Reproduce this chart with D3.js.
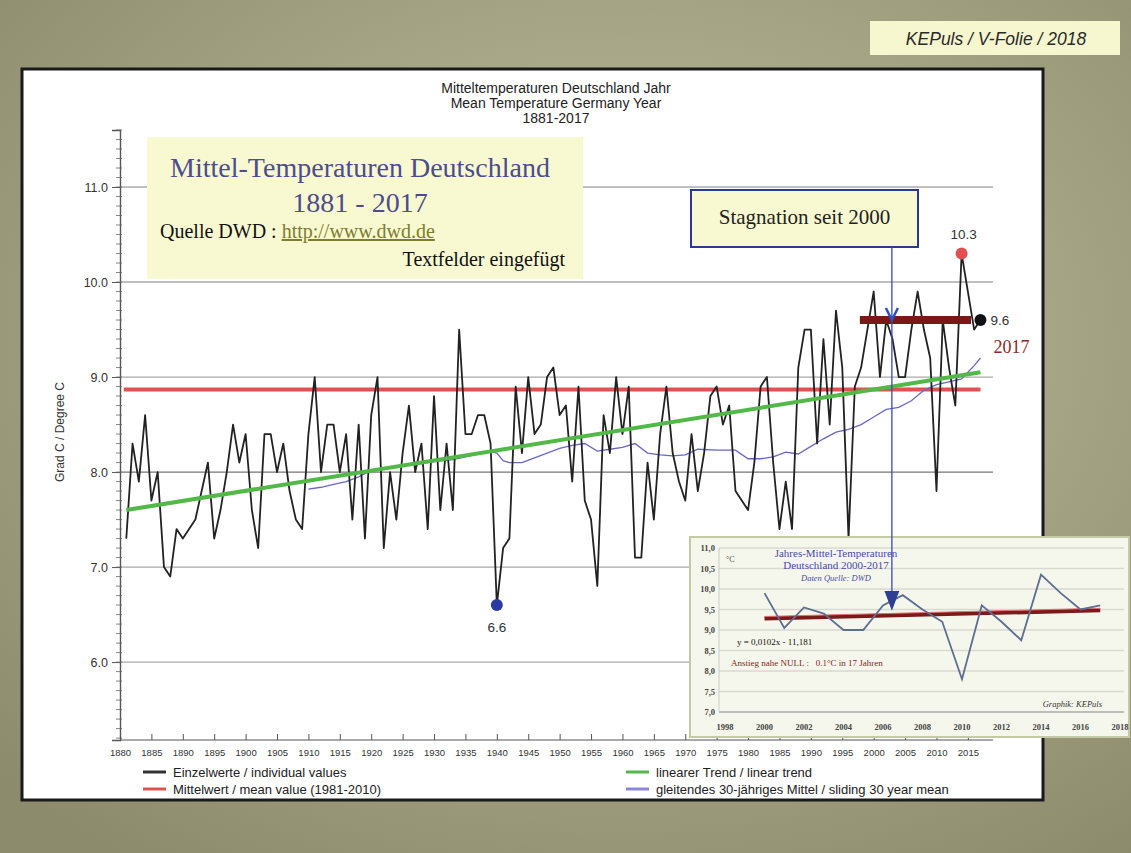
<!DOCTYPE html>
<html><head><meta charset="utf-8">
<script src="https://cdn.jsdelivr.net/npm/d3@7"></script>
<style>body{margin:0;background:#a0a084}svg{display:block}</style>
</head><body><svg id="c" width="1131" height="853"></svg>
<script>
// ---------- DATA ----------
const firstYear = 1881;
const temps = [
 7.3, 8.3, 7.9, 8.6, 7.7, 8.0, 7.0, 6.9, 7.4, 7.3,
 7.4, 7.5, 7.8, 8.1, 7.3, 7.6, 8.0, 8.5, 8.1, 8.4,
 7.6, 7.2, 8.4, 8.4, 8.0, 8.3, 7.8, 7.5, 7.4, 8.4,
 9.0, 8.0, 8.5, 8.5, 8.0, 8.4, 7.5, 8.5, 7.3, 8.6,
 9.0, 7.2, 8.0, 7.5, 8.2, 8.7, 8.0, 8.3, 7.4, 8.8,
 7.6, 8.3, 7.6, 9.5, 8.4, 8.4, 8.6, 8.6, 8.3, 6.6,
 7.2, 7.3, 8.9, 8.2, 9.0, 8.4, 8.5, 9.0, 9.1, 8.6,
 8.7, 7.9, 8.9, 7.7, 7.5, 6.8, 8.6, 8.2, 9.0, 8.4,
 8.9, 7.1, 7.1, 8.1, 7.5, 8.4, 8.9, 8.2, 7.9, 7.7,
 8.4, 7.8, 8.2, 8.8, 8.9, 8.5, 8.7, 7.8, 7.7, 7.6,
 8.1, 8.9, 9.0, 8.1, 7.4, 7.9, 7.4, 9.1, 9.5, 9.5,
 8.3, 9.4, 8.5, 9.7, 9.1, 7.3, 8.9, 9.1, 9.5, 9.9,
 9.0, 9.6, 9.4, 9.0, 9.0, 9.5, 9.9, 9.5, 9.2, 7.8,
 9.6, 9.1, 8.7, 10.3, 9.9, 9.5, 9.6
];
const trendYears = [1881, 2017];
const trendValues = [7.6, 9.05];
const meanYears = [1880.6, 2017];
const meanValue = 8.87;
const slideYears = [1910,1912,1914,1916,1918,1920,1922,1925,1928,1930,1933,1935,1937,1939,1940,1941,1942,1944,1946,1948,1950,1952,1954,1956,1958,1960,1962,1964,1966,1968,1970,1972,1975,1978,1980,1982,1984,1986,1988,1990,1992,1994,1996,1998,2000,2002,2004,2006,2008,2010,2012,2014,2015,2016,2017];
const slideValues = [7.82,7.84,7.87,7.9,7.95,8.02,8.04,8.07,8.09,8.11,8.13,8.16,8.19,8.22,8.2,8.12,8.1,8.1,8.15,8.2,8.25,8.28,8.3,8.22,8.24,8.26,8.3,8.2,8.18,8.17,8.18,8.24,8.23,8.23,8.14,8.14,8.16,8.21,8.19,8.27,8.35,8.42,8.45,8.5,8.58,8.66,8.68,8.75,8.86,8.92,8.95,8.98,9.05,9.12,9.2];
const stagYears = [1997.8, 2015.5];
const stagValue = 9.6;
const arrowYear = 2002.9;
const yTicks = [6, 7, 8, 9, 10, 11];
const xTicks = d3.range(1880, 2016, 5);
const titleLines = ["Mitteltemperaturen Deutschland Jahr", "Mean Temperature Germany Year", "1881-2017"];

const insetYears = d3.range(2000, 2018);
const insetValues = [9.9, 9.05, 9.55, 9.4, 9.0, 9.0, 9.6, 9.85, 9.5, 9.2, 7.8, 9.6, 9.2, 8.75, 10.35, 9.9, 9.5, 9.6];
const insetTrendYears = [2000, 2017];
const insetTrendValues = [9.28, 9.48];
const insetYTicks = [7, 7.5, 8, 8.5, 9, 9.5, 10, 10.5, 11];
const insetXTicks = d3.range(1998, 2019, 2);

// ---------- SETUP ----------
const svg = d3.select("#c");
const defs = svg.append("defs");
const rg = defs.append("radialGradient").attr("id","bg").attr("cx","55%").attr("cy","40%").attr("r","75%");
rg.append("stop").attr("offset","0%").attr("stop-color","#c0c0a0");
rg.append("stop").attr("offset","100%").attr("stop-color","#8c8c6c");
svg.append("rect").attr("width",1131).attr("height",853).attr("fill","url(#bg)");

// top-right label
svg.append("rect").attr("x",870).attr("y",21).attr("width",250).attr("height",34).attr("fill","#f6f6cf");
svg.append("text").attr("x",996).attr("y",45).attr("text-anchor","middle")
  .attr("font-family","Liberation Sans, Arial").attr("font-style","italic").attr("font-size",17.5).attr("fill","#2a2a2a")
  .text("KEPuls / V-Folie / 2018");

// white panel
svg.append("rect").attr("x",22).attr("y",69).attr("width",1021).attr("height",731)
  .attr("fill","#fff").attr("stroke","#1a1a1a").attr("stroke-width",3);

const x = d3.scaleLinear().domain([1880, 2019]).range([120, 993]);
const y = d3.scaleLinear().domain([5.18, 11.6]).range([740, 130]);
const sans = "Liberation Sans, Arial, sans-serif";
const serif = "Liberation Serif, Times New Roman, serif";

// title
svg.append("g").selectAll("text").data(titleLines).join("text")
  .attr("x",556).attr("y",(d,i)=>93+i*15).attr("text-anchor","middle")
  .attr("font-family",sans).attr("font-size",14).attr("fill","#222").text(d=>d);

// gridlines
svg.append("g").selectAll("line").data(yTicks).join("line")
  .attr("x1",x(1880)).attr("x2",x(2019)).attr("y1",d=>y(d)).attr("y2",d=>y(d))
  .attr("stroke",d=>d===8?"#777":"#aaa").attr("stroke-width",1.3);

// y axis
const yAxis = svg.append("g").attr("transform",`translate(${x(1880)},0)`)
  .call(d3.axisLeft(y).tickValues(yTicks).tickFormat(d3.format(".1f")).tickSize(8).tickPadding(4));
yAxis.select(".domain").attr("stroke","#555").attr("stroke-width",1.4);
yAxis.selectAll(".tick line").attr("stroke","#555");
yAxis.selectAll("text").attr("font-family",sans).attr("font-size",12.5).attr("fill","#333");
const minor = d3.range(52, 117).map(v=>v/10);
svg.append("g").selectAll("line").data(minor).join("line")
  .attr("x1",x(1880)-4).attr("x2",x(1880)+2).attr("y1",d=>y(d)).attr("y2",d=>y(d))
  .attr("stroke","#666").attr("stroke-width",0.8);
svg.append("text").attr("transform","translate(64,432) rotate(-90)").attr("text-anchor","middle")
  .attr("font-family",sans).attr("font-size",12).attr("fill","#333").text("Grad C / Degree C");

// x axis
const xAxis = svg.append("g").attr("transform",`translate(0,${y(5.18)})`)
  .call(d3.axisBottom(x).tickValues(xTicks).tickFormat(d3.format("d")).tickSize(-6).tickPadding(6));
xAxis.select(".domain").attr("stroke","#555").attr("d",`M${x(1880)},0H${x(2019)}`);
xAxis.selectAll(".tick line").attr("stroke","#555");
xAxis.selectAll("text").attr("font-family",sans).attr("font-size",9.5).attr("fill","#333").attr("dy","1.1em");

// series
const line = d3.line().x(d=>x(d[0])).y(d=>y(d[1]));
svg.append("path").datum(meanYears.map(t=>[t,meanValue])).attr("d",line)
  .attr("fill","none").attr("stroke","#e05252").attr("stroke-width",4);
svg.append("path").datum(slideYears.map((t,i)=>[t,slideValues[i]])).attr("d",line)
  .attr("fill","none").attr("stroke","#6a66c8").attr("stroke-width",1.3);
svg.append("path").datum(temps.map((v,i)=>[firstYear+i,v])).attr("d",line)
  .attr("fill","none").attr("stroke","#222").attr("stroke-width",1.8).attr("stroke-linejoin","round");
svg.append("path").datum(trendYears.map((t,i)=>[t,trendValues[i]])).attr("d",line)
  .attr("fill","none").attr("stroke","#52b948").attr("stroke-width",4);

// stagnation bar
svg.append("path").datum(stagYears.map(t=>[t,stagValue])).attr("d",line)
  .attr("fill","none").attr("stroke","#7a1818").attr("stroke-width",8);

// extreme points
const pts = [
  {yr:2014,v:10.3,c:"#e05050",lab:"10.3",dx:2,dy:-15,anchor:"middle"},
  {yr:2017,v:9.6,c:"#111",lab:"9.6",dx:10,dy:5,anchor:"start"},
  {yr:1940,v:6.6,c:"#2a3aa0",lab:"6.6",dx:0,dy:27,anchor:"middle"}
];
svg.append("g").selectAll("circle").data(pts).join("circle")
  .attr("cx",d=>x(d.yr)).attr("cy",d=>y(d.v)).attr("r",6).attr("fill",d=>d.c);
svg.append("g").selectAll("text").data(pts).join("text")
  .attr("x",d=>x(d.yr)+d.dx).attr("y",d=>y(d.v)+d.dy).attr("text-anchor",d=>d.anchor)
  .attr("font-family",sans).attr("font-size",13.5).attr("fill","#333").text(d=>d.lab);
svg.append("text").attr("x",x(2017)+13).attr("y",y(9.6)+33).attr("font-family",serif)
  .attr("font-size",18).attr("fill","#8b2a2a").text("2017");

// yellow text box
svg.append("rect").attr("x",147).attr("y",137).attr("width",436).attr("height",142).attr("fill","#f9f9d1");
svg.append("text").attr("x",360).attr("y",177).attr("text-anchor","middle").attr("font-family",serif)
  .attr("font-size",28).attr("fill","#4c4c8e").text("Mittel-Temperaturen Deutschland");
svg.append("text").attr("x",360).attr("y",212).attr("text-anchor","middle").attr("font-family",serif)
  .attr("font-size",28).attr("fill","#4c4c8e").text("1881 - 2017");
const q = svg.append("text").attr("x",160).attr("y",238).attr("font-family",serif).attr("font-size",20).attr("fill","#111");
q.append("tspan").text("Quelle DWD : ");
q.append("tspan").attr("fill","#7d7d30").attr("text-decoration","underline").text("http://www.dwd.de");
svg.append("text").attr("x",565).attr("y",266).attr("text-anchor","end").attr("font-family",serif)
  .attr("font-size",20).attr("fill","#111").text("Textfelder eingefügt");

// stagnation box and arrow
svg.append("rect").attr("x",691).attr("y",190).attr("width",227).attr("height",57)
  .attr("fill","#f9f9d1").attr("stroke","#2b3990").attr("stroke-width",2);
svg.append("text").attr("x",804.5).attr("y",224).attr("text-anchor","middle").attr("font-family",serif)
  .attr("font-size",21).attr("fill","#222").text("Stagnation seit 2000");

// ---------- INSET ----------
const xi = d3.scaleLinear().domain([1998, 2018]).range([725, 1120]);
const yi = d3.scaleLinear().domain([7, 11]).range([712, 548]);
svg.append("rect").attr("x",690).attr("y",537).attr("width",439).attr("height",200)
  .attr("fill","#f5f7ec").attr("stroke","#c4c9a6").attr("stroke-width",2);
svg.append("g").selectAll("line").data(insetYTicks).join("line")
  .attr("x1",719).attr("x2",1124).attr("y1",d=>yi(d)).attr("y2",d=>yi(d))
  .attr("stroke",d=>d===7?"#aaa":"#d9d9d3").attr("stroke-width",1.5);
svg.append("line").attr("x1",719).attr("x2",719).attr("y1",yi(11)).attr("y2",yi(7)).attr("stroke","#ccc");
svg.append("g").selectAll("text").data(insetYTicks).join("text")
  .attr("x",715).attr("y",d=>yi(d)+3).attr("text-anchor","end").attr("font-family",serif)
  .attr("font-weight","bold").attr("font-size",8.5).attr("fill","#444").text(d=>d3.format(".1f")(d).replace(".",","));
svg.append("g").selectAll("text").data(insetXTicks).join("text")
  .attr("x",d=>xi(d)).attr("y",730).attr("text-anchor","middle").attr("font-family",serif)
  .attr("font-weight","bold").attr("font-size",8.5).attr("fill","#444").text(d=>d);
svg.append("text").attr("x",726).attr("y",562).attr("font-family",serif).attr("font-size",8).attr("fill","#555").text("°C");
const li = d3.line().x(d=>xi(d[0])).y(d=>yi(d[1]));
svg.append("path").datum(insetTrendYears.map((t,i)=>[t,insetTrendValues[i]])).attr("d",li)
  .attr("fill","none").attr("stroke","#7a1a1a").attr("stroke-width",4);
svg.append("path").datum(insetTrendYears.map((t,i)=>[t,insetTrendValues[i]+0.05])).attr("d",li)
  .attr("fill","none").attr("stroke","#e07070").attr("stroke-width",1);
svg.append("path").datum(insetYears.map((t,i)=>[t,insetValues[i]])).attr("d",li)
  .attr("fill","none").attr("stroke","#5c6f90").attr("stroke-width",1.8);
const ititle = [["Jahres-Mittel-Temperaturen","normal",557],["Deutschland 2000-2017","normal",569],["Daten Quelle: DWD","italic",581]];
svg.append("g").selectAll("text").data(ititle).join("text")
  .attr("x",836).attr("y",d=>d[2]).attr("text-anchor","middle").attr("font-family",serif)
  .attr("font-style",d=>d[1]).attr("font-size",d=>d[1]==="italic"?8.5:11).attr("fill","#4a4aa8").text(d=>d[0]);
svg.append("text").attr("x",737).attr("y",645).attr("font-family",serif).attr("font-size",9).attr("fill","#111").text("y = 0,0102x - 11,181");
svg.append("text").attr("x",731).attr("y",666).attr("font-family",serif).attr("font-size",9).attr("fill","#8b1a1a")
  .attr("xml:space","preserve").text("Anstieg nahe NULL :   0.1°C in 17 Jahren");
svg.append("text").attr("x",1102).attr("y",707).attr("text-anchor","end").attr("font-family",serif)
  .attr("font-style","italic").attr("font-size",8.5).attr("fill","#333").text("Graphik: KEPuls");

// arrow from stagnation box through to inset
const ax = x(arrowYear);
svg.append("line").attr("x1",ax).attr("x2",ax).attr("y1",247).attr("y2",603).attr("stroke","#3a4ab0").attr("stroke-width",1.3);
svg.append("path").attr("d",`M${ax-6},${y(stagValue)-12}L${ax},${y(stagValue)}L${ax+6},${y(stagValue)-12}`)
  .attr("fill","none").attr("stroke","#2f4fc0").attr("stroke-width",2.5);
svg.append("path").attr("d",`M${ax-6},592L${ax},608L${ax+6},592Z`).attr("fill","#2e3f95").attr("stroke","#2e3f95").attr("stroke-width",2);

// ---------- LEGEND ----------
const legend = [
  {t:"Einzelwerte / individual values", c:"#333", lx:143, ly:772},
  {t:"linearer Trend / linear trend", c:"#52b948", lx:626, ly:772},
  {t:"Mittelwert / mean value (1981-2010)", c:"#e05252", lx:143, ly:789},
  {t:"gleitendes 30-jähriges Mittel / sliding 30 year mean", c:"#8a86d8", lx:626, ly:789}
];
const lg = svg.append("g").selectAll("g").data(legend).join("g");
lg.append("line").attr("x1",d=>d.lx).attr("x2",d=>d.lx+23).attr("y1",d=>d.ly).attr("y2",d=>d.ly)
  .attr("stroke",d=>d.c).attr("stroke-width",3);
lg.append("text").attr("x",d=>d.lx+30).attr("y",d=>d.ly+4.5).attr("font-family",sans).attr("font-size",13)
  .attr("fill","#222").text(d=>d.t);
</script></body></html>
